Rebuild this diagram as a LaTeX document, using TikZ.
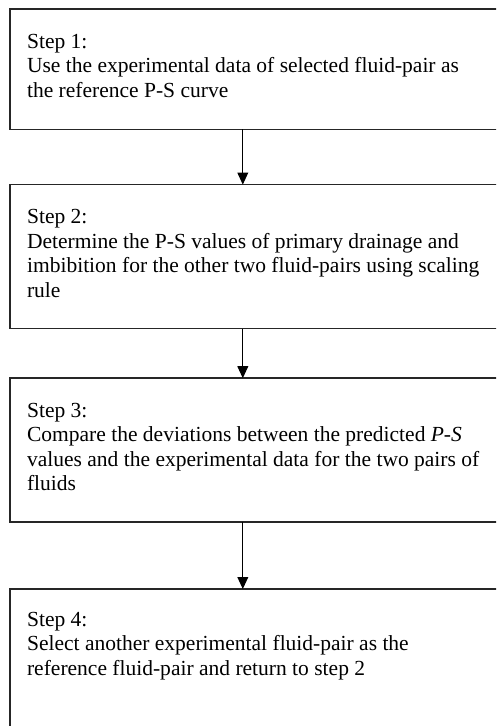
\documentclass[tikz,border=0pt]{standalone}
\usepackage{fontspec}
\setmainfont{Liberation Serif}
\usetikzlibrary{arrows.meta}

\begin{document}
\begin{tikzpicture}[
        stepbox/.style={draw=black!85,line width=1.1pt,rectangle,minimum width=12.75cm,anchor=north west,outer sep=0pt,inner sep=0pt},
        steptext/.style={anchor=north west,inner sep=0pt,align=left,font=\fontsize{15.3}{17.4}\selectfont},
        flowarrow/.style={line width=0.8pt,-{Triangle[length=0.3cm,width=0.27cm]}}
    ]
        \useasboundingbox (0,0) rectangle (12.4,-18.15);
        \clip (0,0) rectangle (12.4,-18.15);

        \coordinate (ax) at (6.07,0);

        \node[stepbox,minimum height=3.01cm] (s1) at (0.25,-0.225) {};
        \node[stepbox,minimum height=3.6cm] (s2) at (0.25,-4.615) {};
        \node[stepbox,minimum height=3.59cm] (s3) at (0.25,-9.455) {};
        \node[stepbox,minimum height=4.5cm] (s4) at (0.25,-14.725) {};

        \node[steptext] (t1) at ([xshift=0.42cm,yshift=-0.62cm]s1.north west)
        {Step 1:\\Use the experimental data of selected fluid-pair as\\the reference P-S curve};
        \node[steptext] (t2) at ([xshift=0.42cm,yshift=-0.62cm]s2.north west)
        {Step 2:\\Determine the P-S values of primary drainage and\\imbibition for the other two fluid-pairs using scaling\\rule};
        \node[steptext] (t3) at ([xshift=0.42cm,yshift=-0.62cm]s3.north west)
        {Step 3:\\Compare the deviations between the predicted \textit{P-S}\\values and the experimental data for the two pairs of\\fluids};
        \node[steptext] (t4) at ([xshift=0.42cm,yshift=-0.57cm]s4.north west)
        {Step 4:\\Select another experimental fluid-pair as the\\reference fluid-pair and return to step 2};

        \draw[flowarrow] (s1.south -| ax) -- (s2.north -| ax);
        \draw[flowarrow] (s2.south -| ax) -- (s3.north -| ax);
        \draw[flowarrow] (s3.south -| ax) -- (s4.north -| ax);
    \end{tikzpicture}
\end{document}
